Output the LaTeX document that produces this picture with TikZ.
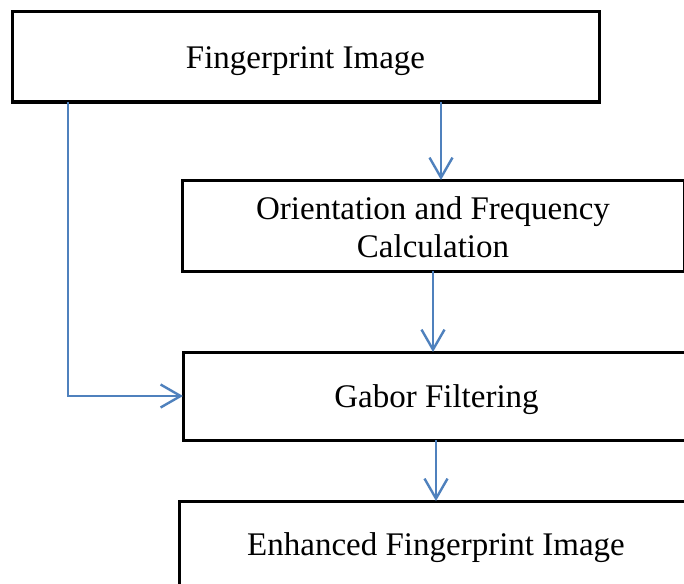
\documentclass[tikz,border=0pt]{standalone}
\usepackage{fontspec}
\setmainfont{Liberation Serif}
\usetikzlibrary{arrows.meta}
\definecolor{flowblue}{RGB}{79,129,189}
% box text, lowered a little inside its box while keeping the box's own size
\newcommand{\boxtext}[2][-2pt]{\raisebox{#1}[\height][\depth]{\begin{tabular}{@{}c@{}}#2\end{tabular}}}
\tikzset{
  stepbox/.style={draw=black, line width=1.5pt, fill=white, rectangle,
    inner sep=0pt, outer sep=0pt, align=center,
    font=\fontsize{16.5pt}{19pt}\selectfont},
  flow/.style={draw=flowblue, line width=1.2pt,
    -{Straight Barb[length=10pt,width=11.5pt,line width=1.2pt]}}
}
\begin{document}
\begin{tikzpicture}[x=0.5pt,y=-0.5pt]
  \useasboundingbox (0,0) rectangle (684,583);
  \clip (0,0) rectangle (684,583);
  \fill[white] (0,0) rectangle (684,583);

  % processing steps
  \node[stepbox, minimum width=293.5pt, minimum height=45pt] (img) at (305.5,57)
    {\boxtext{Fingerprint Image}};
  \node[stepbox, minimum width=251pt, minimum height=45.5pt] (orient) at (433,225.5)
    {\boxtext[-2.5pt]{Orientation and Frequency\\Calculation}};
  \node[stepbox, minimum width=253.5pt, minimum height=44pt] (gabor) at (436.5,396)
    {\boxtext{Gabor Filtering}};
  \node[stepbox, minimum width=257pt, minimum height=44.5pt] (enh) at (436,545.5)
    {\boxtext[-1.2pt]{Enhanced Fingerprint Image}};

  % connector columns
  \coordinate (c0) at (68,0);
  \coordinate (c1) at (441,0);
  \coordinate (c2) at (433,0);
  \coordinate (c3) at (436,0);

  % connectors
  \draw[flow] (img.south -| c1) -- (orient.north -| c1);
  \draw[flow] (orient.south -| c2) -- (gabor.north -| c2);
  \draw[flow] (gabor.south -| c3) -- (enh.north -| c3);
  \draw[flow] (img.south -| c0) |- (gabor.west);
\end{tikzpicture}
\end{document}
